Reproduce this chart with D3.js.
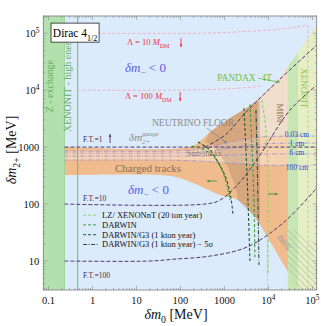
<!DOCTYPE html>
<html>
<head>
<meta charset="utf-8">
<script src="https://cdn.jsdelivr.net/npm/d3@7"></script>
<style>
  body { margin: 0; background: #fff; }
  svg { display: block; }
</style>
</head>
<body>
<div id="chart"></div>
<script>
// axis ticks
const xTicks = [0.1, 1, 10, 100, 1000, 1e4, 1e5];
const xTickLabels = ["0.1", "1", "10", "100", "1000", "10^4", "10^5"];
const yTicks = [10, 100, 1000, 1e4, 1e5];
const yTickLabels = ["10", "100", "1000", "10^4", "10^5"];

// vertical bounds (delta m0, MeV)
const zExchange = [0.076, 0.23];
const xenonHighE = 0.46;

// charged-track funnel  [dm0, dm2+]
const funnelUpper = [[0.23, 1000], [164, 1000], [277, 1274], [468, 1832], [1333, 3230], [3420, 5040], [8320, 8860], [18240, 16250], [52000, 50400], [125000, 138000]];
const funnelLower = [[0.23, 323], [34, 323], [97.5, 286], [277, 207], [790, 144], [2030, 117], [4930, 59], [8320, 31], [14060, 15.6], [23700, 7.85], [40000, 4.1], [52000, 3.1]];

// decay length lines
const decayX = [0.23, 58, 277, 1333, 6410, 125000];
const decay003 = [851, 851, 922, 1224, 1497, 1560];
const decay1 = [785, 785, 817, 960, 1129, 1175];
const decay6 = [695, 695, 695, 724, 754, 754];
const decay100 = [591, 591, 568, 524, 483, 483];
const decayLabels = ["0.03 cm", "1 cm", "6 cm", "100 cm"];

// MIM / XENON1T / BBN / neutrino floor regions
const mimRegion = [[5770, 6410], [8320, 8860], [18240, 16250], [27700, 26500], [27700, 1560], [5770, 1520]];
const xenonStrip = [[27700, 26500], [46800, 45000], [46800, 3.1], [27700, 3.1]];
const xenonPale = [[46800, 45000], [52000, 50400], [125000, 138000], [125000, 3.1], [46800, 3.1]];
const bbnRegion = [[27700, 41], [125000, 19.9], [125000, 3.1], [52000, 3.1], [27700, 6.9]];
const nuFloor = [[360, 1224], [468, 1832], [1333, 3230], [3420, 5040], [6410, 6680], [6410, 48.3], [4930, 59], [2030, 117], [1730, 215], [1140, 483], [548, 1084]];

// Lambda lines
const lambda10 = [[0.46, 1e5], [277, 1e5], [3800, 108000], [18240, 117000], [79000, 138000]];
const lambda100 = [[0.46, 1e4], [98, 1e4], [1333, 10600], [7110, 11700]];
const lambdaVert = [79000, 9500];

// fine tuning lines
const ft1 = [[0.23, 1000], [125000, 1000]];
const ft1Diag = [[360, 1000], [1030, 1625], [3420, 4460], [18240, 15600], [125000, 61500]];
const ft10 = [[0.23, 100], [360, 100], [790, 117], [2250, 243], [6410, 724], [30800, 4460], [125000, 12250]];
const ft100 = [[0.23, 10], [20.3, 10], [75, 10.8], [468, 12.2], [3250, 17.6], [21400, 46.4], [125000, 191]];

// direct detection reach
const lzCurve = [[7110, 6680], [8770, 1990], [9750, 395], [9750, 35], [9750, 5.7]];
const darwinArc = [[182, 1040], [360, 886], [608, 641], [877, 395], [1140, 215], [1333, 117]];
const darwinVert = [[3800, 5670], [4220, 1000], [4680, 117], [4930, 11.3]];
const g3Arc = [[250, 1224], [468, 886], [711, 546], [1080, 286], [1405, 127], [1560, 64]];
const g3Vert = [[2770, 4830], [3080, 886], [3420, 117], [3800, 9.6]];
const g3Sigma = [[5200, 4460], [5480, 886], [5770, 117], [6080, 8.5]];
const legendLabels = ["LZ/ XENONnT (20 ton year)", "DARWIN", "DARWIN/G3 (1 kton year)", "DARWIN/G3 (1 kton year) \u2212 5\u03c3"];

const W = 321, H = 326;
const serif = "'Liberation Serif', 'DejaVu Serif', serif";
const svg = d3.select("#chart").append("svg").attr("width", W).attr("height", H);

const x = d3.scaleLog().domain([0.076, 1.25e5]).range([43.3, 316.7]);
const y = d3.scaleLog().domain([3.1, 2e5]).range([290, 16]);
const [x0, x1] = x.range();
const [y1, y0] = y.range();

const defs = svg.append("defs");
defs.append("clipPath").attr("id", "plot-clip").append("rect")
  .attr("x", x0).attr("y", y0).attr("width", x1 - x0).attr("height", y1 - y0);
const pat = defs.append("pattern").attr("id", "bbn-hatch")
  .attr("patternUnits", "userSpaceOnUse").attr("width", 4.5).attr("height", 4.5)
  .attr("patternTransform", "rotate(-45)");
pat.append("line").attr("x1", 0).attr("y1", 0).attr("x2", 0).attr("y2", 4.5)
  .attr("stroke", "#8e9c82").attr("stroke-width", 0.7);

const smooth = d3.line().x(d => x(d[0])).y(d => y(d[1])).curve(d3.curveCatmullRom.alpha(0.5));
const straight = d3.line().x(d => x(d[0])).y(d => y(d[1]));
function areaPath(...segs) {
  return segs.map((s, i) => {
    const p = s.length > 2 ? smooth(s) : straight(s);
    return i ? "L" + p.slice(1) : p;
  }).join("") + "Z";
}

const plot = svg.append("g").attr("clip-path", "url(#plot-clip)");

// background
plot.append("rect").attr("x", x0).attr("y", y0).attr("width", x1 - x0).attr("height", y1 - y0)
  .attr("fill", "#dcebfb");

// funnel (charged tracks)
plot.append("path")
  .attr("d", areaPath(funnelUpper, [[125000, 138000], [125000, 3.1]], funnelLower.slice().reverse()))
  .attr("fill", "#f0bb8d");

// stub track band
const zipDecay = arr => decayX.map((v, i) => [v, arr[i]]);
plot.append("path")
  .attr("d", areaPath(zipDecay(decay003), zipDecay(decay100).reverse()))
  .attr("fill", "#f5d3b1");

plot.append("path").attr("d", straight(mimRegion) + "Z").attr("fill", "#efdecb");

// neutrino floor
plot.append("path").attr("d", straight(nuFloor) + "Z")
  .attr("fill", "#7a5a44").attr("fill-opacity", 0.22);

// XENON1T regions on the right
plot.append("path").attr("d", straight(xenonStrip) + "Z").attr("fill", "#c7e6b3");
plot.append("path").attr("d", straight(xenonPale) + "Z").attr("fill", "#e4efc6");
plot.append("path").attr("d", straight(bbnRegion) + "Z").attr("fill", "url(#bbn-hatch)");

// Z-exchange band and XENON1T high energy
plot.append("rect").attr("x", x(zExchange[0])).attr("y", y0)
  .attr("width", x(zExchange[1]) - x(zExchange[0])).attr("height", y1 - y0)
  .attr("fill", "#b3e1ad");
plot.append("line").attr("x1", x(zExchange[1])).attr("x2", x(zExchange[1]))
  .attr("y1", y0).attr("y2", y1).attr("stroke", "#93cf8c").attr("stroke-width", 0.8);
plot.append("line").attr("x1", x(xenonHighE)).attr("x2", x(xenonHighE))
  .attr("y1", y0).attr("y2", y1).attr("stroke", "#6cbf6c").attr("stroke-width", 1);

// Lambda (pink dashed)
const pink = "#f1a3b5";
[lambda10, lambda100].forEach(l => {
  plot.append("path").attr("d", smooth(l)).attr("fill", "none")
    .attr("stroke", pink).attr("stroke-width", 0.8).attr("stroke-dasharray", "3,2");
});
plot.append("line").attr("x1", x(lambdaVert[0])).attr("x2", x(lambdaVert[0]))
  .attr("y1", y(138000)).attr("y2", y1)
  .attr("stroke", pink).attr("stroke-width", 0.8).attr("stroke-dasharray", "3,2");
plot.append("line").attr("x1", x(lambdaVert[1])).attr("x2", x(lambdaVert[1]))
  .attr("y1", y(25)).attr("y2", y1)
  .attr("stroke", pink).attr("stroke-width", 0.8).attr("stroke-dasharray", "3,2");

// decay length lines
[decay003, decay1, decay6, decay100].forEach(d => {
  plot.append("path").attr("d", smooth(zipDecay(d))).attr("fill", "none")
    .attr("stroke", "#a08ad6").attr("stroke-width", 0.8).attr("stroke-dasharray", "4,1.5,1,1.5");
});

// fine tuning lines
const ftColor = "#4e3a68";
[ft1, ft1Diag, ft10, ft100].forEach(l => {
  plot.append("path").attr("d", l.length > 2 ? smooth(l) : straight(l)).attr("fill", "none")
    .attr("stroke", ftColor).attr("stroke-width", 1).attr("stroke-dasharray", "4,2");
});

// detection reach
const cLZ = "#8fd26a", cDarwin = "#3c9c3a", cG3 = "#1f5a2a", cSig = "#2d4a34";
const reach = [
  [lzCurve, cLZ, "3,2"], [darwinArc, cDarwin, "3,2"], [darwinVert, cDarwin, "3,2"],
  [g3Arc, cG3, "3,2"], [g3Vert, cG3, "3,2"], [g3Sigma, cSig, "4,1.5,1,1.5"]
];
reach.forEach(([pts, c, dash]) => {
  plot.append("path").attr("d", smooth(pts)).attr("fill", "none")
    .attr("stroke", c).attr("stroke-width", 1.1).attr("stroke-dasharray", dash);
});

// ---------- text helpers ----------
function rich(g, px, py, parts, o) {
  const t = g.append("text").attr("x", px).attr("y", py)
    .attr("font-family", serif).attr("font-size", o.size).attr("fill", o.fill || "#000")
    .attr("text-anchor", o.anchor || "start");
  if (o.rotate) t.attr("transform", `rotate(${o.rotate},${px},${py})`);
  let shift = 0;
  parts.forEach(p => {
    const want = p.sub ? o.size * 0.3 : p.sup ? -o.size * 0.42 : 0;
    const ts = t.append("tspan").text(p.t).attr("dy", want - shift);
    shift = want;
    if (p.sub || p.sup) ts.attr("font-size", o.size * 0.7);
    if (p.it) ts.attr("font-style", "italic");
  });
  return t;
}
function arrow(g, xa, ya, xb, yb, color, w) {
  const ang = Math.atan2(yb - ya, xb - xa);
  g.append("line").attr("x1", xa).attr("y1", ya).attr("x2", xb).attr("y2", yb)
    .attr("stroke", color).attr("stroke-width", w || 0.8);
  const s = 3.2;
  const p1 = [xb - s * Math.cos(ang - 0.4), yb - s * Math.sin(ang - 0.4)];
  const p2 = [xb - s * Math.cos(ang + 0.4), yb - s * Math.sin(ang + 0.4)];
  g.append("path").attr("d", `M${xb},${yb}L${p1}L${p2}Z`).attr("fill", color);
}
const supParts = s => {
  const [b, e] = s.split("^");
  return e ? [{ t: b }, { t: e, sup: true }] : [{ t: b }];
};

const ann = svg.append("g").attr("clip-path", "url(#plot-clip)");

// band labels
rich(ann, x(0.126), y(11700), [{ t: "Z - exchange" }], { size: 10, fill: "#5fae5c", anchor: "middle", rotate: -90 });
rich(ann, x(0.325), y(13800), [{ t: "XENONIT - high energy" }], { size: 10, fill: "#5fae5c", anchor: "middle", rotate: -90 });

// Lambda labels
const red = "#ee3049";
rich(ann, x(6.08), y(61500), [{ t: "\u039b = 10 " }, { t: "M", it: true }, { t: "DM", sub: true }], { size: 8.5, fill: red });
rich(ann, x(5.48), y(6950), [{ t: "\u039b = 100 " }, { t: "M", it: true }, { t: "DM", sub: true }], { size: 8.5, fill: red });
arrow(ann, x(103), y(81600), x(103), y(56800), red, 0.9);
arrow(ann, x(98), y(9230), x(98), y(6410), red, 0.9);

// delta m_- < 0
const blue = "#5c5ce6";
[[20700], [150]].forEach(([v], i) => {
  rich(ann, x(i ? 6.4 : 5.48), y(v), [{ t: "\u03b4m", it: true }, { t: "\u2212", sub: true }, { t: " < 0" }], { size: 13, fill: blue });
});

// fine tuning labels
[["F.T.=1", 1224], ["F.T.=10", 113], ["F.T.=100", 5.03]].forEach(([s, v]) => {
  rich(ann, x(0.61), y(v), [{ t: s }], { size: 7.5, fill: "#3a2c50" });
});
arrow(ann, x(2.5), y(1175), x(2.5), y(1690), ftColor, 0.9);

// gauge label
const gl = rich(ann, x(6.76), y(1274), [{ t: "\u03b4m", it: true }], { size: 11, fill: "#8a8a8a" });
const glw = gl.node().getComputedTextLength();
rich(ann, x(6.76) + glw, y(1274) - 5, [{ t: "gauge", it: true }], { size: 7, fill: "#8a8a8a" });
rich(ann, x(6.76) + glw, y(1274) + 3, [{ t: "2+", it: true }], { size: 7, fill: "#8a8a8a" });

rich(ann, x(3.24), y(364), [{ t: "Charged tracks" }], { size: 11, fill: "#8d6f57" });
rich(ann, x(22.5), y(2335), [{ t: "NEUTRINO FLOOR" }], { size: 9.5, fill: "#8a8a8a" });
arrow(ann, x(400), y(2155), x(1140), y(1175), "#7a7a7a", 0.7);
rich(ann, x(141), y(695), [{ t: "Stub-tracks" }], { size: 7.5, fill: "#8d6f57" });

// decay length labels
[[1497], [1041], [724], [395]].forEach(([v], i) => {
  rich(ann, x(44400), y(v), [{ t: decayLabels[i] }], { size: 7.5, fill: "#2f3fd0", anchor: "middle" });
});

// experiments
rich(ann, x(676), y(14400), [{ t: "PANDAX -4T" }], { size: 9.5, fill: "#73c044" });
arrow(ann, x(7500), y(15600), x(18240), y(13800), "#5fb03a", 0.8);
rich(ann, x(54800), y(10800), [{ t: "XENONIT" }], { size: 9, fill: "#8cc248", anchor: "middle", rotate: 90 });
rich(ann, x(15600), y(3950), [{ t: "MIM" }], { size: 9, fill: "#8d6f57", anchor: "middle", rotate: 90 });
rich(ann, x(20300), y(19.9), [{ t: "BBN" }], { size: 8, fill: "#9a9a9a", anchor: "middle", rotate: 55 });
arrow(ann, x(676), y(254), x(400), y(254), "#3c9c3a", 0.9);
arrow(ann, x(9750), y(150), x(16400), y(150), "#3c9c3a", 0.9);

// Dirac box
ann.append("rect").attr("x", x(0.114)).attr("y", y(150000))
  .attr("width", x(1.41) - x(0.114)).attr("height", y(69500) - y(150000))
  .attr("fill", "#fff").attr("stroke", "#222").attr("stroke-width", 0.8);
rich(ann, (x(0.114) + x(1.41)) / 2, y(69500) - 5,
  [{ t: "Dirac 4" }, { t: "1/2", sub: true }], { size: 11.5, fill: "#000", anchor: "middle" });

// legend
const legend = svg.append("g").attr("transform", `translate(${x(0.61)},${y(64)})`);
const legendStyles = [[cLZ, "3,2"], [cDarwin, "3,2"], [cG3, "3,2"], [cSig, "4,1.5,1,1.5"]];
legendLabels.forEach((s, i) => {
  const row = legend.append("g").attr("transform", `translate(0,${i * 9.8})`);
  row.append("line").attr("x1", 0).attr("x2", 15).attr("y1", 0).attr("y2", 0)
    .attr("stroke", legendStyles[i][0]).attr("stroke-width", 1)
    .attr("stroke-dasharray", legendStyles[i][1]);
  rich(row, 19, 3, [{ t: s }], { size: 8.5, fill: "#111" });
});

// ---------- axes ----------
const minor = (dom, lo, hi) => {
  const out = [];
  for (let e = lo; e <= hi; e++) for (let k = 1; k < 10; k++) {
    const v = k * Math.pow(10, e);
    if (v >= dom[0] && v <= dom[1]) out.push(v);
  }
  return out;
};
const xMinor = minor(x.domain(), -2, 5);
const yMinor = minor(y.domain(), 0, 5);
const tickColor = "#8a8a8a";
const ticks = svg.append("g").attr("stroke", tickColor).attr("stroke-width", 0.6);
xMinor.forEach(v => {
  const len = xTicks.includes(v) ? 4 : 2;
  ticks.append("line").attr("x1", x(v)).attr("x2", x(v)).attr("y1", y1).attr("y2", y1 - len);
  ticks.append("line").attr("x1", x(v)).attr("x2", x(v)).attr("y1", y0).attr("y2", y0 + len);
});
yMinor.forEach(v => {
  const len = yTicks.includes(v) ? 4 : 2;
  ticks.append("line").attr("y1", y(v)).attr("y2", y(v)).attr("x1", x0).attr("x2", x0 + len);
  ticks.append("line").attr("y1", y(v)).attr("y2", y(v)).attr("x1", x1).attr("x2", x1 - len);
});
svg.append("rect").attr("x", x0).attr("y", y0).attr("width", x1 - x0).attr("height", y1 - y0)
  .attr("fill", "none").attr("stroke", "#7a7a7a").attr("stroke-width", 0.8);

xTicks.forEach((v, i) => {
  rich(svg, x(v), y1 + 14, supParts(xTickLabels[i]), { size: 10.5, fill: "#111", anchor: "middle" });
});
yTicks.forEach((v, i) => {
  rich(svg, x0 - 4, y(v) + 4, supParts(yTickLabels[i]), { size: 10.5, fill: "#111", anchor: "end" });
});

rich(svg, 176, 319, [{ t: "\u03b4m", it: true }, { t: "0", sub: true }, { t: " [MeV]" }], { size: 14, fill: "#111", anchor: "middle" });
rich(svg, 16, 150, [{ t: "\u03b4m", it: true }, { t: "2+", sub: true }, { t: " [MeV]" }], { size: 14, fill: "#111", anchor: "middle", rotate: -90 });
</script>
</body>
</html>
